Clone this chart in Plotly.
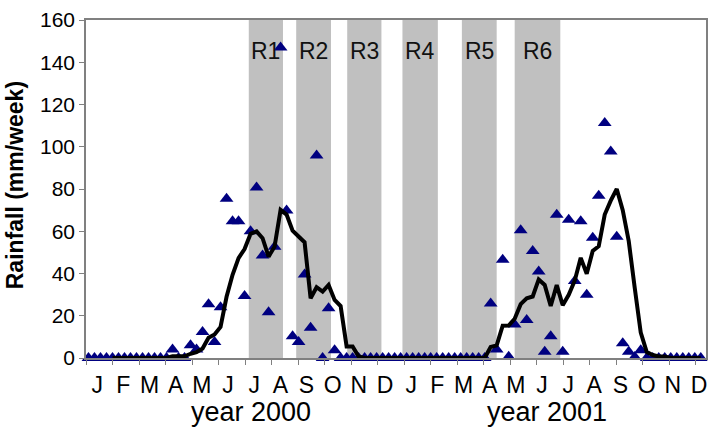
import plotly.graph_objects as go

FONT = "Liberation Sans, Arial, sans-serif"
NAVY = "#000080"
GREY_BAND = "#C0C0C0"
AXIS_GREY = "#808080"

# weekly rainfall (mm/week), week 0 = first week of January 2000
rain_2000 = [0, 0, 0, 0, 0, 0, 0, 0, 0, 0, 0, 0, 0, 0,
             4, 0, 0, 6, 4, 12.3, 25.5, 7.6, 24, 75.4, 64.7, 64.7, 29.4,
             60, 80.7, 48.5, 21.6, 52.7, 147, 69.8, 10.3, 7.6, 39.5, 14.3,
             95.8, 0, 23.6, 3.7, 0, 0, 0, 0, 0, 0, 0, 0, 0, 0]
rain_2001 = [0, 0, 0, 0, 0, 0, 0, 0, 0, 0, 0, 0, 0, 0, 0,
             25.8, 4, 46.5, 0.6, 15.9, 60.5, 18, 50.7, 41, 2.9, 10.3, 67.8,
             2.9, 65.4, 36.4, 64.7, 29.9, 56.9, 76.8, 111.3, 97.8, 57.4, 7,
             3, 0.5, 3.7, 0, 0, 0, 0, 0, 0, 0, 0, 0, 0]

# running mean line as drawn on the chart
avg_2000 = [None, None, None, None, 0, 0, 0, 0, 0, 0, 0, 0, 0, 0,
            0.8, 0.8, 0.8, 2.0, 2.8, 4.5, 9.6, 11.1, 14.7, 29.0, 39.4, 47.3,
            51.6, 58.8, 59.9, 56.7, 48.0, 52.7, 70.1, 67.9, 60.3, 57.5, 54.8,
            28.3, 33.5, 31.4, 34.6, 27.5, 24.6, 5.5, 5.5, 0.7, 0, 0, 0, 0, 0, 0]
avg_2001 = [0, 0, 0, 0, 0, 0, 0, 0, 0, 0, 0, 0, 0, 0, 0,
            5.2, 6.0, 15.3, 15.4, 18.6, 25.5, 28.3, 29.1, 37.2, 34.6, 24.6,
            34.5, 25.0, 29.9, 36.6, 47.4, 39.9, 50.7, 52.9, 67.9, 74.5, 80.0,
            70.0, 55.3, 33.1, 12.0, 2.8, 1.4, 0.7, 0.7, 0, 0, 0, 0, 0, 0]

months = ["J", "F", "M", "A", "M", "J", "J", "A", "S", "O", "N", "D"] * 2
regions = ["R1", "R2", "R3", "R4", "R5", "R6"]
region_start = [26.7, 34.6, 43.1, 52.3, 62.2, 71.0]   # week
region_end = [32.4, 40.4, 48.8, 58.2, 68.0, 78.6]
years = ["year 2000", "year 2001"]

rain = rain_2000 + rain_2001
avg = avg_2000 + avg_2001
weeks = list(range(len(rain)))

x_lo, x_hi = -0.415, 102.87
tick_step = 4.416
label_step = 4.359

fig = go.Figure()

for r, a, b in zip(regions, region_start, region_end):
    fig.add_shape(type="rect", xref="x", yref="paper", x0=a, x1=b, y0=0, y1=1,
                  fillcolor=GREY_BAND, line=dict(width=0), layer="below")
    fig.add_annotation(x=(a + b) / 2, y=0.907, xref="x", yref="paper", text=r,
                       xanchor="center", yanchor="middle", showarrow=False,
                       font=dict(family=FONT, size=23, color="#111111"))

fig.add_trace(go.Scatter(
    x=weeks, y=rain, mode="markers",
    marker=dict(symbol="triangle-up", size=12, color=NAVY),
    cliponaxis=False, showlegend=False,
))
fig.add_trace(go.Scatter(
    x=weeks, y=avg, mode="lines",
    line=dict(color="black", width=4),
    cliponaxis=False, showlegend=False,
))

for txt, xp in zip(years, [0.266, 0.744]):
    fig.add_annotation(x=xp, y=-0.16, xref="paper", yref="paper", text=txt,
                       xanchor="center", yanchor="middle", showarrow=False,
                       font=dict(family=FONT, size=27, color="black"))

fig.add_annotation(x=-0.114, y=0.512, xref="paper", yref="paper",
                   text="<b>Rainfall (mm/week)</b>", textangle=-90, showarrow=False,
                   xanchor="center", yanchor="middle",
                   font=dict(family=FONT, size=23, color="black"))

fig.update_layout(
    width=716, height=435,
    margin=dict(l=86, r=8, t=15, b=77),
    plot_bgcolor="white", paper_bgcolor="white",
    xaxis=dict(
        range=[x_lo, x_hi], showgrid=False, zeroline=False,
        showline=True, linecolor=AXIS_GREY, linewidth=1.5, mirror=True,
        tickvals=[1.44 + label_step * k for k in range(len(months))],
        ticktext=months, ticks="", ticklabelstandoff=6,
        tickfont=dict(family=FONT, size=23, color="black"),
        minor=dict(tickvals=[x_lo + tick_step * k for k in range(24)],
                   ticks="outside", ticklen=5, tickcolor=AXIS_GREY, showgrid=False),
    ),
    yaxis=dict(
        range=[0, 160], dtick=20, showgrid=False, zeroline=False,
        showline=True, linecolor=AXIS_GREY, linewidth=1.5, mirror=True,
        ticks="outside", ticklen=5, tickcolor=AXIS_GREY,
        tickfont=dict(family=FONT, size=21, color="black"),
    ),
)

fig.write_html("out.html", config={"displayModeBar": False},
               post_script="document.body.style.margin='0';")
